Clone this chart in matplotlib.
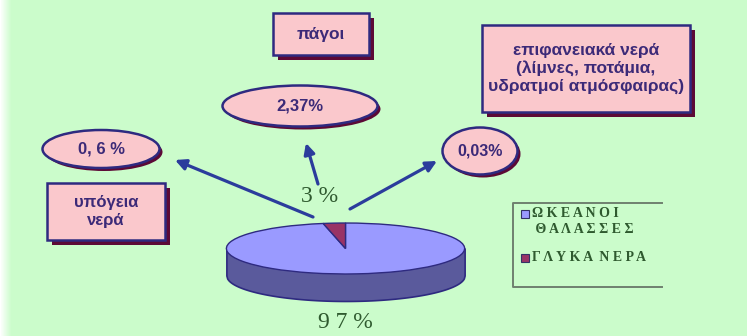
import numpy as np
import matplotlib
matplotlib.use("Agg")
import matplotlib.pyplot as plt
from matplotlib.patches import Rectangle, Ellipse

# --- data -------------------------------------------------------------
water_labels = ["Ω Κ Ε Α Ν Ο Ι\n Θ Α Λ Α Σ Σ Ε Σ", "Γ Λ Υ Κ Α  Ν Ε Ρ Α"]
water_share = [97, 3]                       # oceans/seas vs fresh water (%)
fresh_parts = ["υπόγεια\nνερά", "πάγοι",
               "επιφανειακά νερά\n(λίμνες, ποτάμια,\nυδρατμοί ατμόσφαιρας)"]
fresh_values = ["0, 6 %", "2,37%", "0,03%"]

# --- style ------------------------------------------------------------
BG = "#cbfccb"
PINK = "#fac8cc"
NAVY = "#2e2a80"
SHADOW = "#5c0a36"
TXT = "#3c2a78"
GREEN_TXT = "#2f5a2f"
TOP = "#9a9aff"
SIDE = "#5a5a9c"
RED = "#993366"
ARROW = "#2b3c9c"

W, H = 747, 336
fig = plt.figure(figsize=(W / 100, H / 100), dpi=100, facecolor=BG)
ax = fig.add_axes([0, 0, 1, 1])
ax.set_xlim(0, W)
ax.set_ylim(H, 0)
ax.axis("off")

# faded white strip on the left edge
grad = np.linspace(1, 0, 12)[None, :]
ax.imshow(np.dstack([np.ones((1, 12, 3)), grad[..., None]]),
          extent=(0, 12, H, 0), aspect="auto", zorder=0)


def shadow_box(x0, y0, x1, y1, text, fs=12):
    ax.add_patch(Rectangle((x0 + 5, y0 + 5), x1 - x0, y1 - y0,
                           facecolor=SHADOW, edgecolor="none", zorder=2))
    ax.add_patch(Rectangle((x0, y0), x1 - x0, y1 - y0, facecolor=PINK,
                           edgecolor=NAVY, lw=1.8, zorder=3))
    ax.text((x0 + x1) / 2, (y0 + y1) / 2, text, ha="center", va="center",
            fontsize=fs, fontweight="bold", color=TXT, family="Liberation Sans",
            linespacing=1.2, zorder=4)


def shadow_ellipse(cx, cy, w, h, text, fs=12):
    ax.add_patch(Ellipse((cx + 3, cy + 3), w, h, facecolor=SHADOW,
                         edgecolor="none", zorder=2))
    ax.add_patch(Ellipse((cx, cy), w, h, facecolor=PINK, edgecolor=NAVY,
                         lw=1.8, zorder=3))
    ax.text(cx, cy, text, ha="center", va="center", fontsize=fs,
            fontweight="bold", color=TXT, family="Liberation Sans", zorder=4)


# category boxes
shadow_box(47, 183, 165, 240, fresh_parts[0])
shadow_box(273, 13, 369, 55, fresh_parts[1], fs=12.5)
shadow_box(482, 25, 690, 112, fresh_parts[2], fs=12.5)

# value ellipses
shadow_ellipse(101, 149, 117, 38, fresh_values[0])
shadow_ellipse(300, 106, 155, 41, fresh_values[1])
shadow_ellipse(480, 151, 75, 47, fresh_values[2], fs=11.5)

# arrows from the fresh-water slice
for tail, tip in [((313, 217), (175, 160)),
                  ((318, 184), (306, 143)),
                  ((350, 209), (437, 161))]:
    ax.annotate("", xy=tip, xytext=tail,
                arrowprops=dict(arrowstyle="-|>", lw=2.3, color=ARROW,
                                mutation_scale=16, shrinkA=0, shrinkB=0),
                zorder=3)

# --- 3D-looking pie ---------------------------------------------------
thick = 1.06
pax = fig.add_axes([224 / W, 34 / H, 243 / W, 80 / H])
xs = np.linspace(-1, 1, 300)
pax.fill_between(xs, -thick - np.sqrt(1 - xs ** 2), 0, color=SIDE,
                 edgecolor=NAVY, lw=1.2)
start = 90 + 360 * water_share[1] / sum(water_share)
wedges, _ = pax.pie(water_share, colors=[TOP, RED], startangle=start,
                    counterclock=True,
                    wedgeprops=dict(edgecolor=NAVY, linewidth=1.0))
pax.set_aspect("auto")
pax.set_xlim(-1.02, 1.02)
pax.set_ylim(-1 - thick - 0.04, 1.04)
pax.axis("off")

# percentage labels
ax.text(320, 196, f"{water_share[1]} %", ha="center", va="center",
        fontsize=17, color=GREEN_TXT, family="Liberation Serif", zorder=4)
ax.text(345, 322, " ".join(str(water_share[0])) + " %", ha="center",
        va="center", fontsize=17, color=GREEN_TXT, family="Liberation Serif",
        zorder=4)

# --- legend -----------------------------------------------------------
lc = "#6f806f"
ax.plot([662, 513, 513, 662], [203, 203, 287, 287], color=lc, lw=1.4,
        zorder=2)
for (lab, col, y) in zip(water_labels, [TOP, RED], [214, 258]):
    ax.add_patch(Rectangle((521, y - 4), 8, 8, facecolor=col,
                           edgecolor="#333366", lw=0.8, zorder=3))
    ax.text(532, y - 7, lab, ha="left", va="top", fontsize=10,
            fontweight="bold", color=GREEN_TXT, family="Liberation Serif",
            linespacing=1.3, zorder=3)

fig.savefig("out.png", dpi=100, facecolor=BG)
